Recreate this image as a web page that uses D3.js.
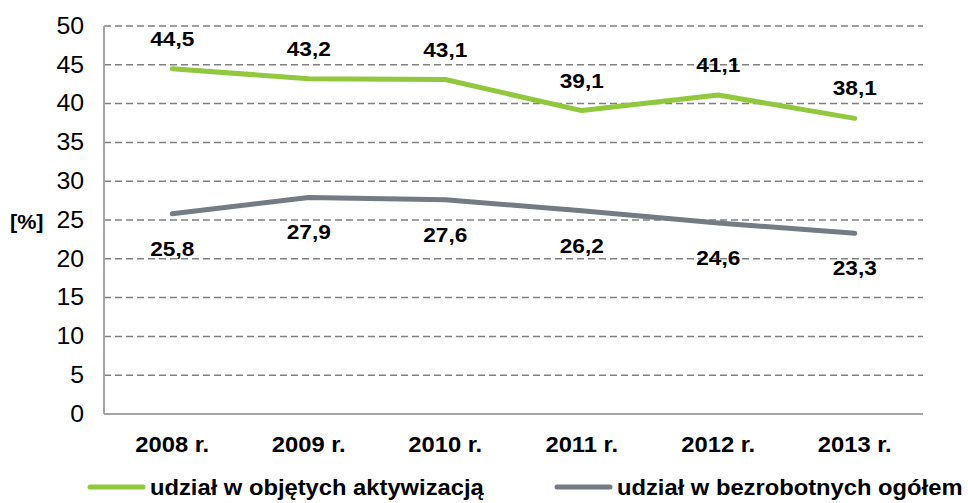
<!DOCTYPE html>
<html>
<head>
<meta charset="utf-8">
<script src="https://cdn.jsdelivr.net/npm/d3@7"></script>
<style>
  body { margin: 0; background: #fff; }
  text { font-family: "Liberation Sans", Arial, sans-serif; }
  .stretch { transform-box: fill-box; }
</style>
</head>
<body>
<div class="chart"></div>
<script>
var years = ["2008 r.", "2009 r.", "2010 r.", "2011 r.", "2012 r.", "2013 r."];
var activated = [44.5, 43.2, 43.1, 39.1, 41.1, 38.1];
var unemployed = [25.8, 27.9, 27.6, 26.2, 24.6, 23.3];
var yTicks = [0, 5, 10, 15, 20, 25, 30, 35, 40, 45, 50];
var seriesNames = ["udział w objętych aktywizacją", "udział w bezrobotnych ogółem"];

var fmt = function(v) { return d3.format(".1f")(v).replace(".", ","); };

// the source text is a bit wider than Arial, stretch it slightly
function stretch(sel, origin) {
	sel.classed("stretch", true)
		.style("transform-origin", origin)
		.style("transform", "scaleX(1.08)");
}

var width = 968, height = 503;
var margin = {top: 26, right: 45, bottom: 89, left: 104};

var svg = d3.select(".chart").append("svg")
	.attr("width", width)
	.attr("height", height);

var w = width - margin.left - margin.right;
var h = height - margin.top - margin.bottom;

var x = d3.scaleBand().domain(years).range([0, w]);
var y = d3.scaleLinear().domain([0, 50]).range([h, 0]);

var g = svg.append("g").attr("transform", "translate(" + margin.left + "," + margin.top + ")");

// dashed gridlines
g.selectAll(".grid").data(yTicks.filter(function(d) { return d > 0; })).enter()
	.append("line")
	.attr("x1", 0).attr("x2", w)
	.attr("y1", function(d) { return y(d); }).attr("y2", function(d) { return y(d); })
	.style("stroke", "#808080")
	.style("stroke-width", 1.5)
	.style("stroke-dasharray", "7,4");

// axes lines
g.append("line").attr("x1", 0).attr("x2", 0).attr("y1", 0).attr("y2", h)
	.style("stroke", "#a6a6a6").style("stroke-width", 2);
g.append("line").attr("x1", 0).attr("x2", w).attr("y1", h).attr("y2", h)
	.style("stroke", "#a6a6a6").style("stroke-width", 2);

var yAxis = d3.axisLeft(y).tickValues(yTicks).tickSize(0).tickPadding(20);
var ya = g.append("g").call(yAxis);
ya.select(".domain").remove();
ya.selectAll("text").style("font-size", "23px").style("fill", "#000")
	.style("font-family", "'Liberation Sans', Arial, sans-serif")
	.call(stretch, "right center");

var xAxis = d3.axisBottom(x).tickSize(0).tickPadding(22);
var xa = g.append("g").attr("transform", "translate(0," + h + ")").call(xAxis);
xa.select(".domain").remove();
xa.selectAll("text").style("font-size", "22px").style("font-weight", "bold").style("fill", "#000")
	.style("font-family", "'Liberation Sans', Arial, sans-serif")
	.call(stretch, "center");

svg.append("text").attr("x", 10).attr("y", 229)
	.style("font-size", "20px").style("font-weight", "bold").text("[%]")
	.call(stretch, "left center");

var line = d3.line()
	.x(function(d, i) { return x(years[i]) + x.bandwidth() / 2; })
	.y(function(d) { return y(d); });

var series = [
	{values: activated, color: "#92c83e", dy: -23},
	{values: unemployed, color: "#757b83", dy: 42}
];

series.forEach(function(s) {
	g.append("path").datum(s.values)
		.attr("d", line)
		.style("fill", "none")
		.style("stroke", s.color)
		.style("stroke-width", 5)
		.style("stroke-linecap", "round")
		.style("stroke-linejoin", "round");

	g.selectAll(null).data(s.values).enter().append("text")
		.attr("x", function(d, i) { return x(years[i]) + x.bandwidth() / 2; })
		.attr("y", function(d) { return y(d) + s.dy; })
		.attr("text-anchor", "middle")
		.style("font-size", "21px").style("font-weight", "bold")
		.text(fmt)
		.call(stretch, "center");
});

// legend
var legendX = [90, 557];
seriesNames.forEach(function(name, i) {
	var lg = svg.append("g").attr("transform", "translate(" + legendX[i] + ",487)");
	lg.append("line").attr("x1", 0).attr("x2", 53)
		.style("stroke", series[i].color).style("stroke-width", 5).style("stroke-linecap", "round");
	lg.append("text").attr("x", 60).attr("y", 8)
		.style("font-size", "22px").style("font-weight", "bold").text(name)
		.call(stretch, "left center");
});
</script>
</body>
</html>
